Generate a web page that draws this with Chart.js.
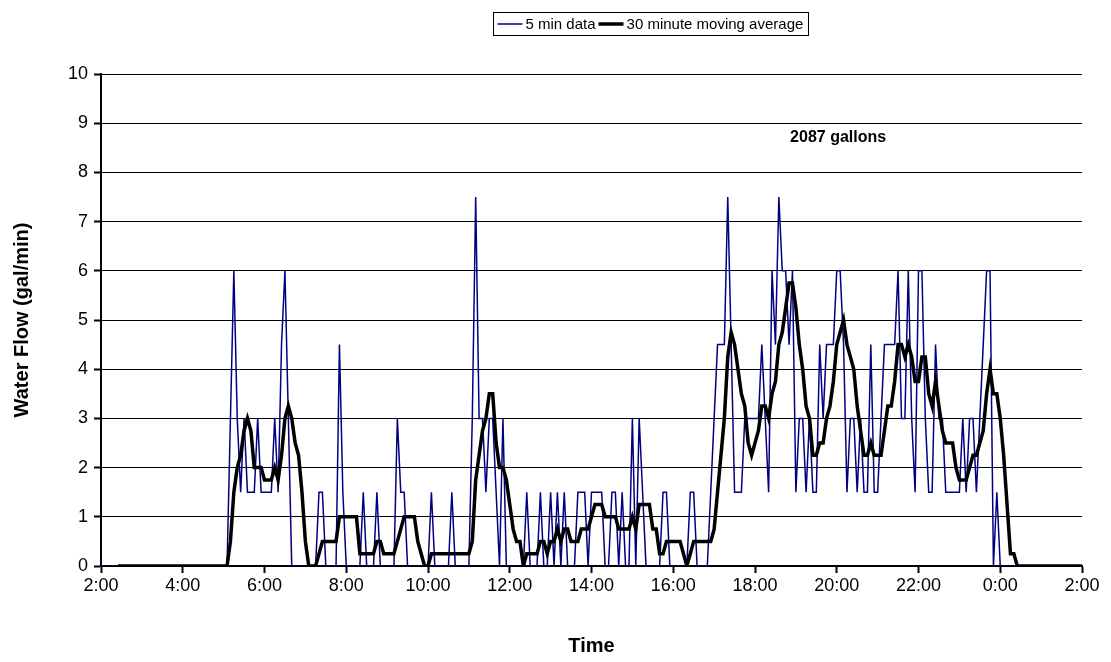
<!DOCTYPE html>
<html lang="en">
<head>
    <meta charset="UTF-8">
    <title>Water Flow</title>
    <style>
        body {
            margin: 0;
            background: #fff;
        }
        #wrap {
            width: 1111px;
            height: 662px;
        }
    </style>
</head>
<body>
    <div id="wrap"><canvas id="flow-chart" width="1111" height="662"></canvas></div>

    <script src="https://cdn.jsdelivr.net/npm/chart.js"></script>
    <script>
        // one row = one hour of 5 minute readings, starting at 2:00
        const flow5min = [
            0, 0, 0, 0, 0, 0, 0, 0, 0, 0, 0, 0,
            0, 0, 0, 0, 0, 0, 0, 0, 0, 0, 0, 0,
            0, 0, 0, 0, 0, 0, 0, 0, 0, 0, 0, 0,
            0, 0, 3, 6, 3, 1.5, 3, 1.5, 1.5, 1.5, 3, 1.5,
            1.5, 1.5, 1.5, 3, 1.5, 4.5, 6, 3, 0, 0, 0, 0,
            0, 0, 0, 0, 1.5, 1.5, 0, 0, 0, 0, 4.5, 1.5,
            0, 0, 0, 0, 0, 1.5, 0, 0, 0, 1.5, 0, 0,
            0, 0, 0, 3, 1.5, 1.5, 0, 0, 0, 0, 0, 0,
            0, 1.5, 0, 0, 0, 0, 0, 1.5, 0, 0, 0, 0,
            0, 3, 7.5, 3, 3, 1.5, 3, 3, 1.5, 0, 3, 0,
            0, 0, 0, 0, 0, 1.5, 0, 0, 0, 1.5, 0, 0,
            1.5, 0, 1.5, 0, 1.5, 0, 0, 0, 1.5, 1.5, 1.5, 0,
            1.5, 1.5, 1.5, 1.5, 0, 0, 1.5, 1.5, 0, 1.5, 0, 0,
            3, 0, 3, 1.5, 0, 0, 0, 0, 0, 1.5, 1.5, 0,
            0, 0, 0, 0, 0, 1.5, 1.5, 0, 0, 0, 0, 1.5,
            3, 4.5, 4.5, 4.5, 7.5, 4.5, 1.5, 1.5, 1.5, 3, 3, 3,
            3, 3, 4.5, 3, 1.5, 6, 4.5, 7.5, 6, 6, 4.5, 6,
            1.5, 3, 3, 1.5, 3, 1.5, 1.5, 4.5, 3, 4.5, 4.5, 4.5,
            6, 6, 4.5, 1.5, 3, 3, 1.5, 3, 1.5, 1.5, 4.5, 1.5,
            1.5, 3, 4.5, 4.5, 4.5, 4.5, 6, 3, 3, 6, 3, 1.5,
            6, 6, 3, 1.5, 1.5, 4.5, 3, 3, 1.5, 1.5, 1.5, 1.5,
            1.5, 3, 1.5, 3, 3, 1.5, 3, 4.5, 6, 6, 0, 1.5,
            0, 0, 0, 0, 0, 0, 0, 0, 0, 0, 0, 0,
            0, 0, 0, 0, 0, 0, 0, 0, 0, 0, 0, 0,
            0
        ];

        const movingAvg30 = [
            null, null, null, null, null, 0, 0, 0, 0, 0, 0, 0,
            0, 0, 0, 0, 0, 0, 0, 0, 0, 0, 0, 0,
            0, 0, 0, 0, 0, 0, 0, 0, 0, 0, 0, 0,
            0, 0, 0.5, 1.5, 2, 2.25, 2.75, 3, 2.75, 2, 2, 2,
            1.75, 1.75, 1.75, 2, 1.75, 2.25, 3, 3.25, 3, 2.5, 2.25, 1.5,
            0.5, 0, 0, 0, 0.25, 0.5, 0.5, 0.5, 0.5, 0.5, 1, 1,
            1, 1, 1, 1, 0.25, 0.25, 0.25, 0.25, 0.25, 0.5, 0.5, 0.25,
            0.25, 0.25, 0.25, 0.5, 0.75, 1, 1, 1, 1, 0.5, 0.25, 0,
            0, 0.25, 0.25, 0.25, 0.25, 0.25, 0.25, 0.25, 0.25, 0.25, 0.25, 0.25,
            0.25, 0.5, 1.75, 2.25, 2.75, 3, 3.5, 3.5, 2.5, 2, 2, 1.75,
            1.25, 0.75, 0.5, 0.5, 0, 0.25, 0.25, 0.25, 0.25, 0.5, 0.5, 0.25,
            0.5, 0.5, 0.75, 0.5, 0.75, 0.75, 0.5, 0.5, 0.5, 0.75, 0.75, 0.75,
            1, 1.25, 1.25, 1.25, 1, 1, 1, 1, 0.75, 0.75, 0.75, 0.75,
            1, 0.75, 1.25, 1.25, 1.25, 1.25, 0.75, 0.75, 0.25, 0.25, 0.5, 0.5,
            0.5, 0.5, 0.5, 0.25, 0, 0.25, 0.5, 0.5, 0.5, 0.5, 0.5, 0.5,
            0.75, 1.5, 2.25, 3, 4.25, 4.75, 4.5, 4, 3.5, 3.25, 2.5, 2.25,
            2.5, 2.75, 3.25, 3.25, 3, 3.5, 3.75, 4.5, 4.75, 5.25, 5.75, 5.75,
            5.25, 4.5, 4, 3.25, 3, 2.25, 2.25, 2.5, 2.5, 3, 3.25, 3.75,
            4.5, 4.75, 5, 4.5, 4.25, 4, 3.25, 2.75, 2.25, 2.25, 2.5, 2.25,
            2.25, 2.25, 2.75, 3.25, 3.25, 3.75, 4.5, 4.5, 4.25, 4.5, 4.25, 3.75,
            3.75, 4.25, 4.25, 3.5, 3.25, 3.75, 3.25, 2.75, 2.5, 2.5, 2.5, 2,
            1.75, 1.75, 1.75, 2, 2.25, 2.25, 2.5, 2.75, 3.5, 4, 3.5, 3.5,
            3, 2.25, 1.25, 0.25, 0.25, 0, 0, 0, 0, 0, 0, 0,
            0, 0, 0, 0, 0, 0, 0, 0, 0, 0, 0, 0,
            0
        ];

        const timeLabels = ['2:00', '4:00', '6:00', '8:00', '10:00', '12:00', '14:00',
            '16:00', '18:00', '20:00', '22:00', '0:00', '2:00'];
        const seriesNames = ['5 min data', '30 minute moving average'];
        const totalNote = '2087 gallons';

        const FONT = '"Liberation Sans", Arial, sans-serif';
        Chart.defaults.font.family = FONT;
        Chart.defaults.color = '#000';

        // minutes after 2:00 for each reading
        function toPoints(values) {
            return values.map((v, i) => ({ x: i * 5, y: v }));
        }

        // boxed legend + the total label, drawn on top of the chart
        const extras = {
            id: 'extras',
            afterDraw(chart) {
                const ctx = chart.ctx;
                const xs = chart.scales.x;
                const ys = chart.scales.y;
                ctx.save();

                ctx.font = 'bold 16px ' + FONT;
                ctx.fillStyle = '#000';
                ctx.textAlign = 'center';
                ctx.textBaseline = 'middle';
                ctx.fillText(totalNote, xs.getPixelForValue(1082), ys.getPixelForValue(8.7));

                ctx.font = '15px ' + FONT;
                const sample = 25, gap = 3, padL = 4, padR = 5, h = 23;
                const items = chart.data.datasets.map(ds => ({
                    text: ds.label, color: ds.borderColor, width: ds.borderWidth,
                    tw: ctx.measureText(ds.label).width
                }));
                let total = padL + padR;
                items.forEach((it, k) => { total += sample + gap + it.tw + (k < items.length - 1 ? gap : 0); });
                const left = Math.round(650.5 - total / 2) + 0.5;
                const top = 12.5;
                ctx.strokeStyle = '#000';
                ctx.lineWidth = 1;
                ctx.strokeRect(left, top, Math.round(total), h);

                const cy = top + h / 2;
                let cx = left + padL;
                ctx.textAlign = 'left';
                items.forEach(it => {
                    ctx.beginPath();
                    ctx.strokeStyle = it.color;
                    ctx.lineWidth = it.width;
                    ctx.moveTo(cx, cy);
                    ctx.lineTo(cx + sample, cy);
                    ctx.stroke();
                    cx += sample + gap;
                    ctx.fillStyle = '#000';
                    ctx.fillText(it.text, cx, cy + 1);
                    cx += it.tw + gap;
                });
                ctx.restore();
            }
        };

        new Chart(document.getElementById('flow-chart'), {
            type: 'line',
            data: {
                datasets: [
                    {
                        label: seriesNames[0],
                        data: toPoints(flow5min),
                        borderColor: '#000080',
                        borderWidth: 1.5,
                        pointRadius: 0,
                        tension: 0,
                        order: 2
                    },
                    {
                        label: seriesNames[1],
                        data: toPoints(movingAvg30),
                        borderColor: '#000000',
                        borderWidth: 3.5,
                        pointRadius: 0,
                        tension: 0,
                        order: 1
                    }
                ]
            },
            options: {
                responsive: false,
                animation: false,
                layout: {
                    padding: { top: 74, right: 29, left: 0, bottom: 0 }
                },
                plugins: {
                    legend: { display: false },
                    tooltip: { enabled: false }
                },
                scales: {
                    x: {
                        type: 'linear',
                        min: 0,
                        max: 1440,
                        afterFit: s => { s.height = 96; },
                        ticks: {
                            stepSize: 120,
                            autoSkip: false,
                            maxRotation: 0,
                            padding: 2,
                            font: { size: 18 },
                            callback: v => timeLabels[v / 120]
                        },
                        grid: {
                            drawOnChartArea: false,
                            tickLength: 7,
                            tickWidth: 2,
                            tickColor: '#000'
                        },
                        border: { color: '#000', width: 2 },
                        title: {
                            display: true,
                            text: 'Time',
                            font: { size: 20, weight: 'bold' },
                            padding: { top: 0, bottom: 4 }
                        }
                    },
                    y: {
                        min: 0,
                        max: 10,
                        afterFit: s => { s.width = 101; },
                        ticks: {
                            stepSize: 1,
                            padding: 6,
                            font: { size: 18 }
                        },
                        grid: {
                            color: '#000',
                            lineWidth: 1,
                            tickLength: 7,
                            tickWidth: 2,
                            tickColor: '#000'
                        },
                        border: { color: '#000', width: 2 },
                        title: {
                            display: true,
                            text: 'Water Flow (gal/min)',
                            font: { size: 20, weight: 'bold' },
                            padding: { top: 10, bottom: 0 }
                        }
                    }
                }
            },
            plugins: [extras]
        });
    </script>
</body>
</html>
